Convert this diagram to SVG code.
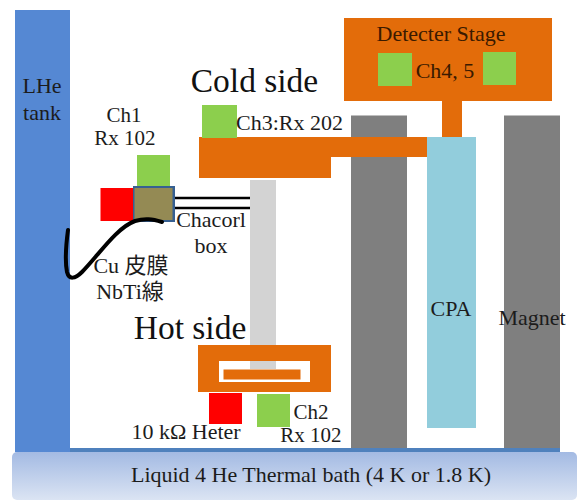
<svg xmlns="http://www.w3.org/2000/svg" width="577" height="500" viewBox="0 0 577 500">
<defs>
<linearGradient id="bath" x1="0" y1="0" x2="0" y2="1"><stop offset="0" stop-color="#a3bae3"/><stop offset="1" stop-color="#dbe4f3"/></linearGradient>
</defs>
<style>
.t{font-family:"Liberation Serif","Noto Sans CJK JP",serif;font-size:22px;fill:#1c1c1c}
.s{font-size:21px}
.b{font-family:"Liberation Serif",serif;font-size:33.500px;fill:#111}
.m{text-anchor:middle}
.o{fill:#e36c0a}.g{fill:#8ccf4d}.r{fill:#ff0000}.y{fill:#7f7f7f}
</style>
<rect width="577" height="500" fill="#fff"/>
<g id="tank"><rect x="15" y="10" width="55" height="442" fill="#5588d3"/><text class="t m" x="42" y="93">LHe</text><text class="t m" x="42" y="120">tank</text></g>
<g id="bath"><rect x="70" y="448" width="490" height="5" fill="#4f81bd"/><rect x="12" y="452" width="565" height="48" rx="5" fill="url(#bath)"/><text class="t m" x="311" y="482">Liquid 4 He Thermal bath (4 K or 1.8 K)</text></g>
<g id="magnet-left"><rect class="y" x="351" y="115.500" width="56" height="332.500"/></g>
<g id="magnet-right"><rect class="y" x="504" y="115.500" width="56" height="332.500"/><text class="t m" x="532" y="325">Magnet</text></g>
<g id="cpa"><rect x="427" y="137" width="49" height="291" fill="#92cddc"/><text class="t m" x="451" y="316">CPA</text></g>
<g id="link"><rect x="250" y="180" width="26" height="189" fill="#d3d3d3"/></g>
<g id="cold"><path class="o" d="M199 137H427V157H331V178H199Z"/><rect class="g" x="202" y="105" width="35" height="33"/><text class="b m" x="254.500" y="92">Cold side</text><text class="t" x="236" y="130">Ch3:Rx 202</text></g>
<g id="detector"><rect class="o" x="344" y="18" width="208" height="83"/><rect class="o" x="442" y="101" width="20" height="36"/><rect class="g" x="378" y="53" width="34" height="33"/><rect class="g" x="483" y="52" width="33" height="33"/><text class="t m" x="441" y="41" style="fill:#3a1a00">Detecter Stage</text><text class="t m" x="445" y="78" style="fill:#3a1a00">Ch4, 5</text></g>
<g id="ch1"><rect class="g" x="137" y="155" width="33" height="33"/><rect class="r" x="100.500" y="188" width="34" height="33"/><rect x="133" y="186" width="42" height="36" fill="#366092"/><rect x="134.500" y="188" width="38" height="32" fill="#948a54"/><text class="t s m" x="124" y="121.500">Ch1</text><text class="t s m" x="125" y="145">Rx 102</text></g>
<g id="labels"><text class="t m" x="211" y="227">Chacorl</text><text class="t m" x="211" y="253">box</text><text class="t m" x="131" y="273">Cu 皮膜</text><text class="t m" x="130" y="299">NbTi線</text></g>
<g id="hot"><rect class="o" x="198" y="345" width="133" height="47"/><rect x="219" y="361" width="91" height="21" fill="#fff"/><rect x="250" y="361" width="26" height="8" fill="#d3d3d3"/><rect class="o" x="223.500" y="369.500" width="77" height="10"/><rect class="r" x="209" y="393" width="33" height="31"/><rect class="g" x="257" y="394" width="33" height="33"/><text class="b m" x="190" y="339">Hot side</text><text class="t m" x="186" y="439">10 kΩ Heter</text><text class="t s m" x="311" y="418.500">Ch2</text><text class="t s m" x="311" y="442">Rx 102</text></g>
<g id="connectors" fill="none" stroke="#000"><path d="M175 198H250M175 208H250" stroke-width="2.500"/><path d="M68 230C66 245 65 262 67 272C69 280 75 279 82 272C98 256 116 228 135 221C145 218 152 219 162 222" stroke-width="4" stroke-linecap="round"/></g>
</svg>
